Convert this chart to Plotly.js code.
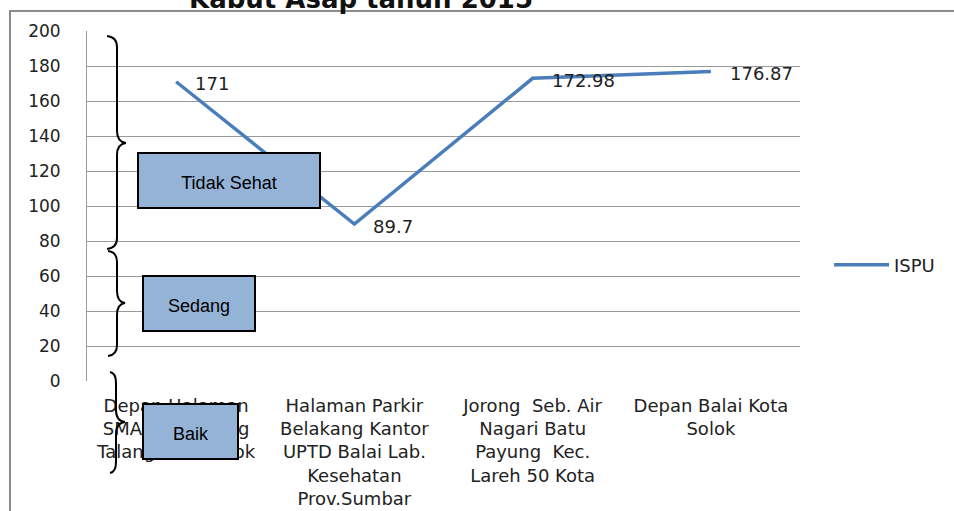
<!DOCTYPE html>
<html>
<head>
<meta charset="utf-8">
<script src="https://cdn.plot.ly/plotly-3.0.1.min.js"></script>
<style>html,body{margin:0;padding:0;background:#fff;}#chart{width:954px;height:511px;}</style>
</head>
<body>
<div id="chart"></div>
<script>
// ---- data ----
const categories = [
  "Depan Halaman<br>SMAN 1 Gunung<br>Talang Kab. Solok",
  "Halaman Parkir<br>Belakang Kantor<br>UPTD Balai Lab.<br>Kesehatan<br>Prov.Sumbar",
  "Jorong  Seb. Air<br>Nagari Batu<br>Payung  Kec.<br>Lareh 50 Kota",
  "Depan Balai Kota<br>Solok"
];
const ispu = [171, 89.7, 172.98, 176.87];
const ispuLabels = ["171", "89.7", "172.98", "176.87"];
const yTickVals = [0, 20, 40, 60, 80, 100, 120, 140, 160, 180, 200];
const categoryBoxes = ["Tidak Sehat", "Sedang", "Baik"];
const seriesName = "ISPU";
const titleText = "Kabut Asap tahun 2015";

// ---- layout helpers (pixel -> paper) ----
const W = 954, H = 511;
const M = {l: 87, r: 154, t: 31, b: 130};
const PW = W - M.l - M.r, PH = H - M.t - M.b;
const px = x => (x - M.l) / PW;
const py = y => (H - M.b - y) / PH;

function bracePath(xe, xs, xt, yt, ym, yb) {
  const P = (x, y) => px(x).toFixed(5) + ',' + py(y).toFixed(5);
  return 'M' + P(xe, yt) +
    ' Q' + P(xs, yt + 1) + ' ' + P(xs, yt + 11) +
    ' L' + P(xs, ym - 12) +
    ' Q' + P(xs, ym - 1) + ' ' + P(xt, ym) +
    ' Q' + P(xs, ym + 1) + ' ' + P(xs, ym + 12) +
    ' L' + P(xs, yb - 11) +
    ' Q' + P(xs, yb - 1) + ' ' + P(xe, yb);
}

const shapes = [];
shapes.push({type: 'path', xref: 'paper', yref: 'paper', layer: 'above',
  path: 'M' + px(10) + ',' + py(515) + ' L' + px(10) + ',' + py(11) + ' L' + px(960) + ',' + py(11),
  line: {color: '#8c8c8c', width: 2}});
const braceDefs = [
  [107, 117, 126, 36, 143, 249],
  [108, 117, 125, 251, 303, 356],
  [110, 116, 125, 372, 422, 473]
];
braceDefs.forEach(b => shapes.push({type: 'path', xref: 'paper', yref: 'paper', layer: 'above',
  path: bracePath.apply(null, b), line: {color: '#000', width: 2}}));
const boxRects = [[138, 153, 320, 208], [143, 276, 255, 331], [143, 404, 238, 459]];
boxRects.forEach((r, i) => shapes.push({type: 'rect', xref: 'paper', yref: 'paper', layer: 'above',
  x0: px(r[0]), y0: py(r[1]), x1: px(r[2]), y1: py(r[3]),
  fillcolor: '#95b3d7', line: {color: '#000', width: 2},
  label: {text: categoryBoxes[i], textposition: 'middle center',
    font: {family: 'Liberation Sans Narrow, Arial Narrow, Liberation Sans, Arial', size: 18, color: '#000'}}}));

const annotations = ispu.map((v, i) => ({
  x: categories[i], y: v, xref: 'x', yref: 'y', text: ispuLabels[i],
  showarrow: false, xanchor: 'left', yanchor: 'middle', xshift: 17, yshift: -2,
  font: {family: 'DejaVu Sans, Verdana, sans-serif', size: 18, color: '#222'}
}));

const trace = {
  x: categories, y: ispu, type: 'scatter', mode: 'lines', name: seriesName,
  line: {color: '#4a7ebb', width: 3.5}
};

const layout = {
  width: W, height: H,
  margin: M,
  paper_bgcolor: '#fff', plot_bgcolor: '#fff',
  title: {text: '<b>' + titleText + '</b>', x: 361 / W, xanchor: 'center', xref: 'container',
    y: 1 - 7.5 / H, yanchor: 'bottom', yref: 'container',
    font: {family: 'DejaVu Sans, Verdana, sans-serif', size: 26, color: '#111'}},
  showlegend: true,
  legend: {x: px(829), xanchor: 'left', y: py(265), yanchor: 'middle', itemwidth: 55,
    font: {family: 'DejaVu Sans, Verdana, sans-serif', size: 18, color: '#222'},
    bgcolor: 'rgba(0,0,0,0)'},
  xaxis: {type: 'category', range: [-0.5, 3.5], showgrid: false, zeroline: false,
    showline: false, ticks: 'outside', ticklen: 8, tickcolor: 'rgba(0,0,0,0)', tickangle: 0,
    tickfont: {family: 'DejaVu Sans, Verdana, sans-serif', size: 18, color: '#222'}},
  yaxis: {range: [0, 200], tickvals: yTickVals, showgrid: true, gridcolor: '#9a9a9a', gridwidth: 1,
    zeroline: false, showline: true, linecolor: '#9a9a9a', linewidth: 1, mirror: false,
    ticks: 'outside', ticklen: 22, tickcolor: 'rgba(0,0,0,0)',
    tickfont: {family: 'DejaVu Sans, Verdana, sans-serif', size: 17, color: '#222'}},
  shapes: shapes,
  annotations: annotations
};

Plotly.newPlot('chart', [trace], layout, {displayModeBar: false, staticPlot: true});
</script>
</body>
</html>
